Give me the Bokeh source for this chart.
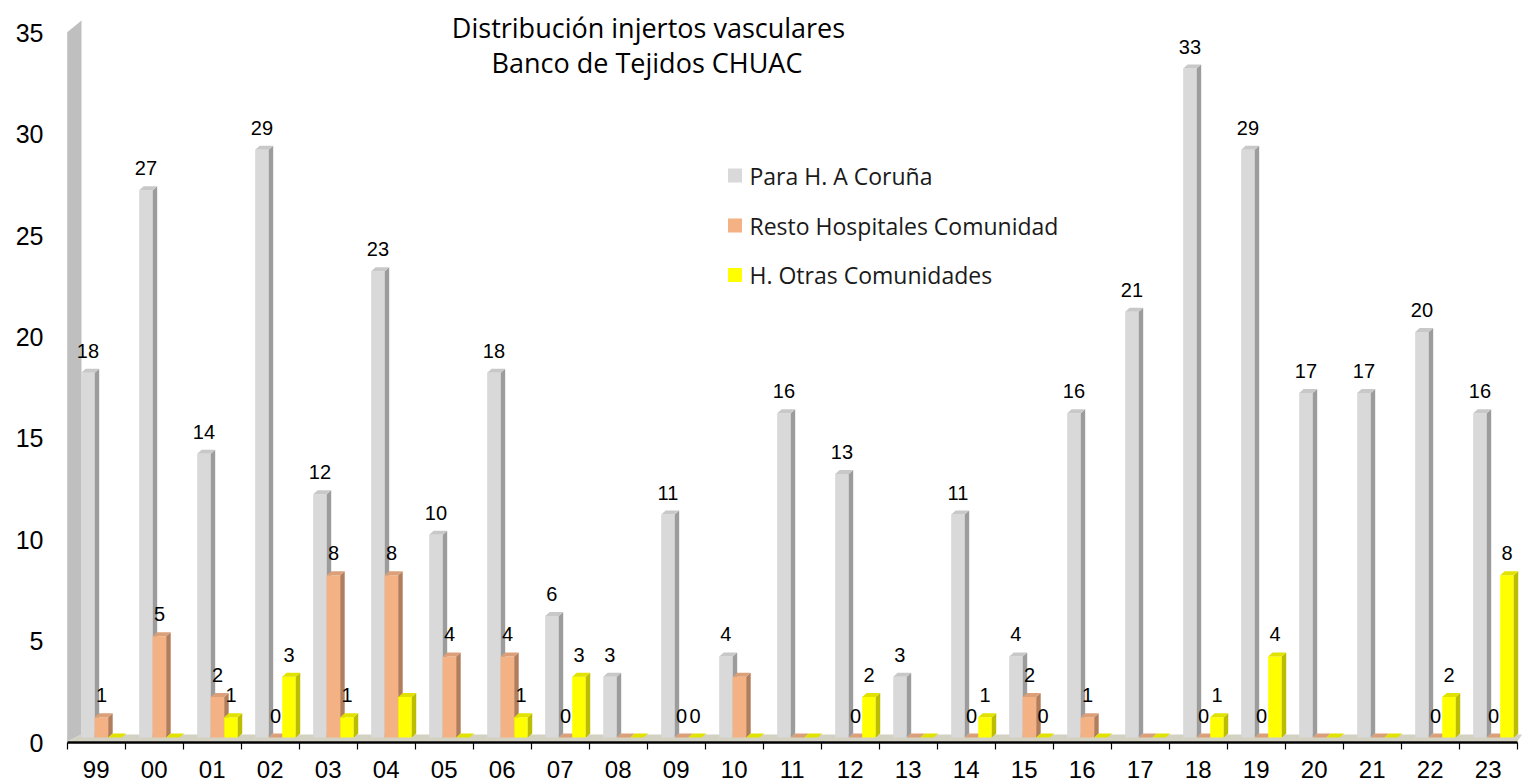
from bokeh.plotting import figure
from bokeh.models import Range1d, LinearAxis, FixedTicker
from bokeh.core.properties import value
from bokeh.embed import file_html
from bokeh.resources import INLINE

# ---------------- data ----------------
years = ["99", "00", "01", "02", "03", "04", "05", "06", "07", "08", "09", "10", "11",
         "12", "13", "14", "15", "16", "17", "18", "19", "20", "21", "22", "23"]
coruna = [18, 27, 14, 29, 12, 23, 10, 18, 6, 3, 11, 4, 16, 13, 3, 11, 4, 16, 21, 33, 29, 17, 17, 20, 16]
resto = [1, 5, 2, 0, 8, 8, 4, 4, 0, 0, 0, 3, 0, 0, 0, 0, 2, 1, 0, 0, 0, 0, 0, 0, 0]
otras = [0, 0, 1, 3, 1, 2, 0, 1, 3, 0, 0, 0, 0, 2, 0, 1, 0, 0, 0, 1, 4, 0, 0, 2, 8]
coruna_lbl = ["18", "27", "14", "29", "12", "23", "10", "18", "6", "3", "11", "4", "16",
              "13", "3", "11", "4", "16", "21", "33", "29", "17", "17", "20", "16"]
resto_lbl = ["1", "5", "2", "0", "8", "8", "4", "4", "0", "", "0", "", "",
             "0", "", "0", "2", "1", "", "0", "0", "", "", "0", "0"]
otras_lbl = ["", "", "1", "3", "1", "", "", "1", "3", "", "0", "", "",
             "2", "", "1", "0", "", "", "1", "4", "", "", "2", "8"]
series_names = ["Para H. A Coruña", "Resto Hospitales Comunidad", "H. Otras Comunidades"]
title_lines = ["Distribución injertos vasculares", "Banco de Tejidos CHUAC"]
y_ticks = [0, 5, 10, 15, 20, 25, 30, 35]

# ---------------- layout (pixels) ----------------
CW, CH, PAGE = 1523, 783, 0
X0, W = 66.7, 58.0       # page x of first category boundary, category width
Y0, K = 737.0, 20.27     # page y of value 0, pixels per unit


def dx(px):
    return (px - X0) / W


def dy(py):
    return (Y0 - py) / K


DDX, DDY = 4.5 / W, 4.0 / K      # 3D depth
BW = 0.233                       # bar width (category units)
OFFS = [0.241, 0.474, 0.707]     # left edge of each series inside a category

front_col = ["#d9d9d9", "#f4b183", "#ffff00"]
side_col = ["#9c9c9c", "#b27d5b", "#bdbd00"]
top_col = ["#c8c8c8", "#dba07a", "#e2e200"]

p = figure(width=CW, height=CH, output_backend="svg", toolbar_location=None,
           x_range=Range1d(dx(PAGE), dx(PAGE + CW)),
           y_range=Range1d(dy(PAGE + CH), dy(PAGE)),
           x_axis_location=None, y_axis_location=None,
           min_border=0, outline_line_color=None,
           background_fill_color="white", border_fill_color="white")
p.grid.visible = False

n = len(years)

# wall and floor
p.patch([0, 0, dx(81), dx(81)], [dy(741), dy(31.7), dy(20), dy(734)],
        fill_color="#bfbfbf", line_color=None)
p.patch([0, n, n + 5 / W, dx(81)], [dy(741), dy(741), dy(734), dy(734)],
        fill_color="#d3d1c1", line_color=None)

# bars
for s, vals in enumerate([coruna, resto, otras]):
    fx, fy, sx, sy, tx, ty = [], [], [], [], [], []
    for i, v in enumerate(vals):
        x0 = i + OFFS[s]
        x1 = x0 + BW
        fx.append([x0, x1, x1, x0]); fy.append([0, 0, v, v])
        sx.append([x1, x1 + DDX, x1 + DDX, x1]); sy.append([0, DDY, v + DDY, v])
        tx.append([x0, x1, x1 + DDX, x0 + DDX]); ty.append([v, v, v + DDY, v + DDY])
    p.patches(fx, fy, fill_color=front_col[s], line_color=None)
    p.patches(sx, sy, fill_color=side_col[s], line_color=None)
    p.patches(tx, ty, fill_color=top_col[s], line_color=None)

# data labels
for s, (vals, lbls) in enumerate([(coruna, coruna_lbl), (resto, resto_lbl), (otras, otras_lbl)]):
    xs = [i + OFFS[s] + BW / 2 for i in range(n)]
    ys = [v + 22 / K for v in vals]
    p.text(xs, ys, text=lbls, text_align="center", text_baseline="alphabetic",
           text_font=value("Liberation Sans"), text_font_size="20px", text_color="black")

# title
p.text([dx(648), dx(646.5)], [dy(27), dy(62)], text=title_lines, text_align="center",
       text_baseline="middle", text_font=value("Open Sans"), text_font_size="27px",
       text_color="black")

# legend (manual)
leg_y = [dy(175), dy(225), dy(274.5)]
p.scatter([dx(734.5)] * 3, leg_y, marker="square", size=14, fill_color=front_col,
          line_color=None)
p.text([dx(749)] * 3, leg_y, text=series_names, text_align="left", text_baseline="middle",
       text_font=value("Open Sans"), text_font_size="23px", text_color="#1a1a1a")

# axes
xa = LinearAxis(fixed_location=dy(742), bounds=(0, n),
                ticker=FixedTicker(ticks=[i + 0.5 for i in range(n)],
                                   minor_ticks=list(range(n + 1))),
                major_label_overrides={i + 0.5: y for i, y in enumerate(years)},
                major_tick_out=0, major_tick_in=0, minor_tick_out=7, minor_tick_in=0,
                axis_line_width=2.5, axis_line_color="black",
                minor_tick_line_color="black", minor_tick_line_width=1.2,
                major_label_text_font="Liberation Sans", major_label_text_font_size="24px",
                major_label_text_color="black", major_label_standoff=11)
p.add_layout(xa, "below")

p.extra_y_ranges = {"lab": Range1d(dy(PAGE + CH) + 5 / K, dy(PAGE) + 5 / K)}
ya = LinearAxis(y_range_name="lab", fixed_location=dx(50),
                ticker=FixedTicker(ticks=y_ticks),
                axis_line_color=None, major_tick_line_color=None, minor_tick_line_color=None,
                major_tick_out=0, major_tick_in=0, minor_tick_out=0, minor_tick_in=0,
                major_label_text_font="Liberation Sans", major_label_text_font_size="25px",
                major_label_text_color="black", major_label_standoff=7)
p.add_layout(ya, "left")

open("out.html", "w").write(file_html(p, INLINE))
